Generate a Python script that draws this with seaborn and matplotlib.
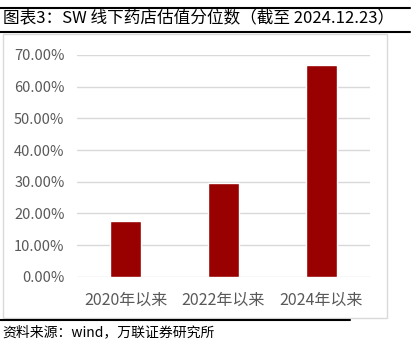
import matplotlib
matplotlib.use("Agg")
import matplotlib.pyplot as plt
import seaborn as sns
import pandas as pd
from matplotlib.lines import Line2D
from matplotlib.patches import Rectangle

categories = ["2020年以来", "2022年以来", "2024年以来"]
values = [17.6, 29.5, 66.9]
yticks = [0, 10, 20, 30, 40, 50, 60, 70]

sns.set_theme(style="white")
plt.rcParams['font.family'] = ['Noto Sans CJK SC', 'DejaVu Sans']

df = pd.DataFrame({"cat": categories, "val": values})

fig = plt.figure(figsize=(4.16, 3.53), dpi=100)
ax = fig.add_axes([77/416, 1 - 276.7/353, (370-77)/416, (276.7-55)/353])

sns.barplot(data=df, x="cat", y="val", color="#990000", width=0.32, ax=ax,
            saturation=1, zorder=3)
ax.set_ylim(0, 70)
ax.set_yticks(yticks)
ax.set_yticklabels([f"{t:.2f}%" for t in yticks], color="#595959", fontsize=10.5)
ax.set_xticklabels(categories, color="#595959", fontsize=11.5)
ax.set_xlabel("")
ax.set_ylabel("")
ax.tick_params(axis="both", length=0)
ax.tick_params(axis="x", pad=11)
ax.tick_params(axis="y", pad=9)
for t in yticks:
    ax.axhline(t, color="#d9d9d9", lw=1, zorder=1)
for s in ax.spines.values():
    s.set_visible(False)

# chart frame and report decorations
fig.patches.append(Rectangle((3/416, 1 - 318/353), 384/416, 284/353, transform=fig.transFigure,
                             fill=False, edgecolor="#d9d9d9", lw=1))
fig.lines.append(Line2D([0, 410/416], [1 - 8/353] * 2, transform=fig.transFigure, color="black", lw=1.5))
fig.lines.append(Line2D([0, 410/416], [1 - 32/353] * 2, transform=fig.transFigure, color="black", lw=1.5))
fig.lines.append(Line2D([0, 350/416], [1 - 320/353] * 2, transform=fig.transFigure, color="black", lw=1.5))

fig.text(3/416, 1 - 19/353, "图表3：SW 线下药店估值分位数（截至 2024.12.23）", fontsize=12,
         color="black", va="center", ha="left")
fig.text(2/416, 1 - 332/353, "资料来源：wind，万联证券研究所", fontsize=10, style="italic",
         color="black", va="center", ha="left")

fig.savefig("out.png", dpi=100)
